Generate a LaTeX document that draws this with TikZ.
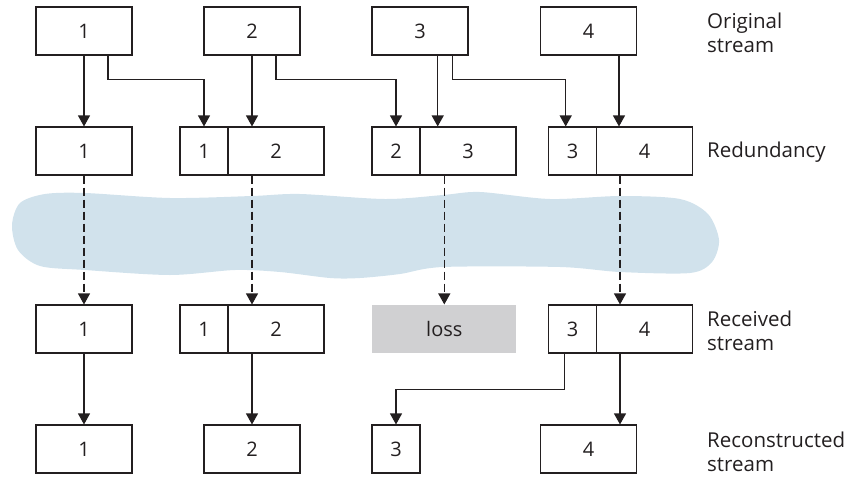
\documentclass[tikz,border=0pt]{standalone}
\usepackage{fontspec}
\setmainfont{Open Sans}
\usetikzlibrary{arrows.meta}
\definecolor{cloudblue}{HTML}{D1E2EC}
\definecolor{lossgray}{HTML}{D0D0D2}
\definecolor{ink}{HTML}{231F20}

\begin{document}
\begin{tikzpicture}[x=1pt,y=-1pt,
  pkt/.style={draw=ink, text=ink, line width=1.1pt, minimum height=48pt, inner sep=0pt, font=\fontsize{20}{24}\selectfont},
  big/.style={pkt, minimum width=96pt},
  small/.style={pkt, minimum width=48pt},
  arr/.style={draw=ink, line width=1.1pt, -{Triangle[width=12pt,length=11pt]}},
  darr/.style={arr, dash pattern=on 8pt off 4pt},
  lbl/.style={anchor=west, align=left, inner sep=0pt, text=ink, font=\fontsize{20.5}{24}\selectfont}]

  \useasboundingbox (0,0) rectangle (859,477);

  % Network cloud
  \fill[cloudblue] plot[smooth cycle] coordinates {
    (12,225) (20,203) (45,194) (85,193) (170,198) (252,196) (300,194)
    (385,199) (443,195) (480,192) (550,199) (620,196) (680,199) (708,214)
    (719,240) (712,262) (690,273) (620,272) (560,267) (443,267) (400,274)
    (360,278) (330,278) (280,272) (235,270) (170,275) (85,270) (40,266) (18,250)};

  % Original stream
  \node[big] (org1) at (84,31) {1};
  \node[big] (org2) at (252,31) {2};
  \node[big] (org3) at (420,31) {3};
  \node[big] (org4) at (588.7,31) {4};

  % Redundancy
  \node[big] (red1) at (84,151) {1};
  \node[small] (red2s) at (204,151) {1};
  \node[big] (red2) at (276,151) {2};
  \node[small] (red3s) at (396,151) {2};
  \node[big] (red3) at (468,151) {3};
  \node[small] (red4s) at (572.7,151) {3};
  \node[big] (red4) at (644.7,151) {4};

  % Received stream
  \node[big] (rcv1) at (84,329) {1};
  \node[small] (rcv2s) at (204,329) {1};
  \node[big] (rcv2) at (276,329) {2};
  \node[pkt, draw=none, fill=lossgray, minimum width=144pt] (loss) at (444.3,329) {loss};
  \node[small] (rcv4s) at (572.7,329) {3};
  \node[big] (rcv4) at (644.7,329) {4};

  % Reconstructed stream
  \node[big] (rec1) at (84,449) {1};
  \node[big] (rec2) at (252,449) {2};
  \node[small] (rec3) at (396,449) {3};
  \node[big] (rec4) at (588.7,449) {4};

  % Original -> redundancy
  \draw[arr] (org1) -- (red1);
  \draw[arr] ([xshift=24pt]org1.south) -- ++(0,24) -| (red2s.north);
  \draw[arr] (org2.south) -- (org2.south |- red2.north);
  \draw[arr] ([xshift=24pt]org2.south) -- ++(0,24) -| (red3s.north);
  \draw[arr] ([xshift=17.7pt]org3.south) -- ([xshift=-30.3pt]red3.north);
  \draw[arr] ([xshift=32.3pt]org3.south) -- ++(0,24) -| ([xshift=-7pt]red4s.north);
  \draw[arr] ([xshift=30.3pt]org4.south) -- ([xshift=-25.7pt]red4.north);

  % Through the network
  \draw[darr] (red1) -- (rcv1);
  \draw[darr] ([xshift=-24pt]red2.south) -- ([xshift=-24pt]rcv2.north);
  \draw[darr] ([xshift=-23.7pt]red3.south) -- (loss.north);
  \draw[darr] ([xshift=-24.7pt]red4.south) -- ([xshift=-24.7pt]rcv4.north);

  % Reconstruction
  \draw[arr] (rcv1) -- (rec1);
  \draw[arr] ([xshift=-24pt]rcv2.south) -- (rec2.north);
  \draw[arr] ([xshift=-8pt]rcv4s.south) -- ++(0,36) -| (rec3.north);
  \draw[arr] ([xshift=-24.7pt]rcv4.south) -- ([xshift=-24.7pt]rcv4.south |- rec4.north);

  % Row labels
  \node[lbl] (lorig) at (707,33) {Original\\stream};
  \node[lbl] (lred) at (707,152) {Redundancy};
  \node[lbl] (lrcv) at (707,331) {Received\\stream};
  \node[lbl] (lrec) at (707,452) {Reconstructed\\stream};

\end{tikzpicture}
\end{document}
